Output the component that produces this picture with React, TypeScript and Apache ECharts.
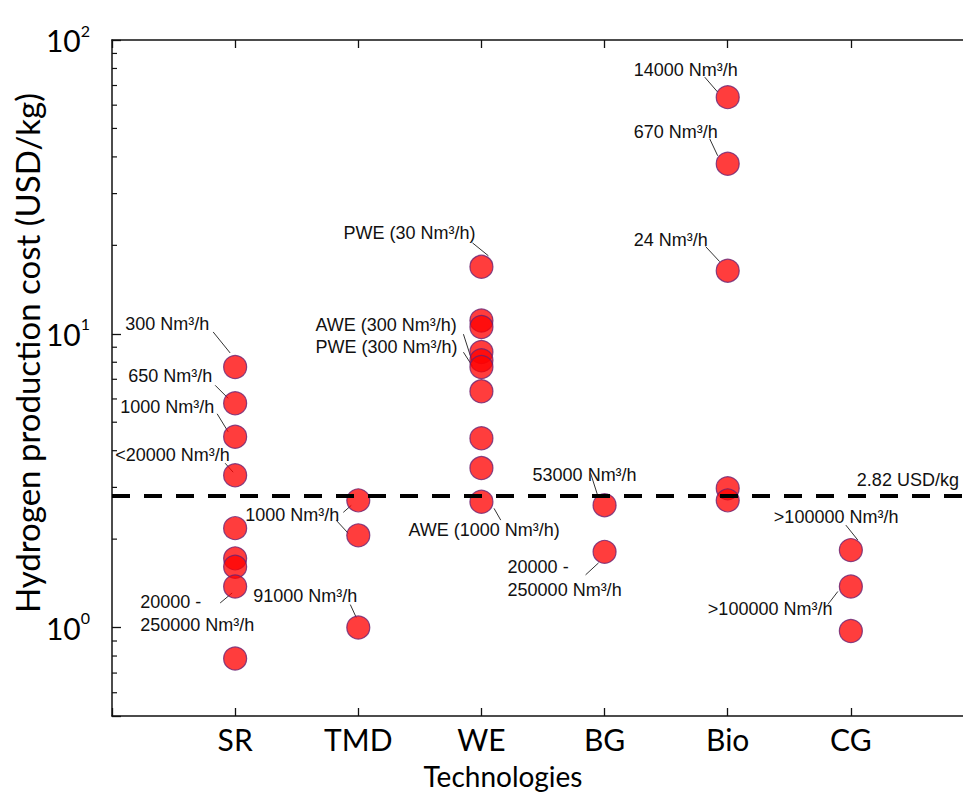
import React, { useEffect, useRef } from "react";
import * as echarts from "echarts";

// ---------- data ----------
const categories = ["SR", "TMD", "WE", "BG", "Bio", "CG"];
const srCost = [7.71, 5.8, 4.46, 3.3, 2.18, 1.72, 1.61, 1.38, 0.785];
const tmdCost = [2.71, 2.06, 1.0];
const weCost = [16.9, 11.1, 10.55, 8.67, 8.13, 7.71, 6.37, 4.41, 3.49, 2.68];
const bgCost = [2.61, 1.81];
const bioCost = [63.9, 37.9, 16.4, 2.98, 2.71];
const cgCost = [1.835, 1.38, 0.973];
const costsByCategory = [srCost, tmdCost, weCost, bgCost, bioCost, cgCost];
const referenceCost = 2.82;
const referenceLabel = "2.82 USD/kg";
const xTitle = "Technologies";
const yTitle = "Hydrogen production cost (USD/kg)";
const yMin = 0.5;
const yMax = 100;
const minorTickValues = [0.6, 0.7, 0.8, 0.9, 2, 3, 4, 5, 6, 7, 8, 9, 20, 30, 40, 50, 60, 70, 80, 90];

// annotation texts: [category, value, text]
const annotationCategory = ["SR", "SR", "SR", "SR", "SR", "TMD", "TMD", "WE", "WE", "WE", "WE", "BG", "BG", "Bio", "Bio", "Bio", "CG", "CG"];
const annotationValue = [7.71, 5.8, 4.46, 3.3, 1.38, 2.06, 1.0, 16.9, 8.13, 8.13, 2.68, 2.61, 1.81, 63.9, 37.9, 16.4, 1.835, 1.38];
const annotationText = [
  "300 Nm³/h",
  "650 Nm³/h",
  "1000 Nm³/h",
  "<20000 Nm³/h",
  "20000 -\n250000 Nm³/h",
  "1000 Nm³/h",
  "91000 Nm³/h",
  "PWE (30 Nm³/h)",
  "AWE (300 Nm³/h)",
  "PWE (300 Nm³/h)",
  "AWE (1000 Nm³/h)",
  "53000 Nm³/h",
  "20000 -\n250000 Nm³/h",
  "14000 Nm³/h",
  "670 Nm³/h",
  "24 Nm³/h",
  ">100000 Nm³/h",
  ">100000 Nm³/h",
];

// ---------- layout of annotations (pixel offsets from the marker) ----------
// [textDx, textDy, leaderStartDx, leaderStartDy, leaderEndDx, leaderEndDy]
const annotationLayout = [
  [-110, -43, -22, -35, -5, -14],
  [-107, -27, -20, -18, -7, -5],
  [-115, -30, -18, -23, -7, -5],
  [-120, -20, -10, -12, -2, -3],
  [-95, 27, -15, 16.5, -3, 6.5],
  [-113, -20, -22, -15, -10, -2],
  [-105, -32, -8, -23, -2, -10],
  [-138, -34, -9, -24, 7, -11],
  [-166, -35, -18, -26, -9, 2],
  [-166, -13, -18, -8, -9, 6],
  [-73, 28, 12.6, 6.6, 19.3, 18.3],
  [-72, -30, -14, -32, -7, -10],
  [-97, 27, -19, 23, -6, 11],
  [-94, -27, -23, -20, -10, -5],
  [-94, -32, -18, -25, -10, -8],
  [-94, -31, -22, -24, -8, -9],
  [-77, -33, -5, -25, 7, -10],
  [-143, 23, -23, 18, -13, 5],
];
// extra leader without text: TMD upper point
const extraLeaderCategory = ["TMD"];
const extraLeaderValue = [2.71];
const extraLeaderLayout = [[-15, 12, -7, 5]];

const FONT_AXIS = "Lato, 'DejaVu Sans', sans-serif";
const FONT_NOTE = "'Liberation Sans', Arial, sans-serif";

export default function App() {
  const ref = useRef<HTMLDivElement>(null);

  useEffect(() => {
    if (!ref.current) return;
    const chart = echarts.init(ref.current, null, { renderer: "svg" });

    const scatterData: number[][] = [];
    costsByCategory.forEach((arr, i) => arr.forEach((v) => scatterData.push([i + 1, v])));

    const axisLineStyle = { color: "#111", width: 1.5 };

    const option: any = {
      animation: false,
      backgroundColor: "#fff",
      grid: { left: 112, top: 40, width: 862, height: 676, containLabel: false, outerBoundsMode: "none" },
      xAxis: [
        {
          type: "value",
          min: 0,
          max: 7,
          interval: 1,
          position: "bottom",
          axisLine: { show: true, onZero: false, lineStyle: axisLineStyle },
          axisTick: { show: true, inside: true, length: 8, lineStyle: { color: "#111", width: 1.3 } },
          axisLabel: {
            margin: 9,
            color: "#000",
            fontSize: 30,
            lineHeight: 28,
            fontFamily: FONT_AXIS,
            formatter: (v: number) => (v >= 1 && v <= categories.length ? categories[v - 1] : ""),
          },
          splitLine: { show: false },
        },
        {
          type: "value",
          min: 0,
          max: 7,
          interval: 1,
          position: "top",
          axisLine: { show: true, onZero: false, lineStyle: axisLineStyle },
          axisTick: { show: true, inside: true, length: 8, lineStyle: { color: "#111", width: 1.3 } },
          axisLabel: { show: false },
          splitLine: { show: false },
        },
      ],
      yAxis: [
        {
          type: "log",
          logBase: 10,
          min: yMin,
          max: yMax,
          position: "left",
          axisLine: { show: true, onZero: false, lineStyle: axisLineStyle },
          axisTick: { show: true, inside: true, length: 9, lineStyle: { color: "#111", width: 1.3 } },
          axisLabel: {
            margin: 22,
            formatter: (v: number) => {
              const e = Math.round(Math.log10(v));
              if (Math.abs(v / Math.pow(10, e) - 1) > 1e-6) return "";
              return "{b|10}{s|" + e + "}";
            },
            rich: {
              b: { fontSize: 30, fontFamily: FONT_AXIS, color: "#000", lineHeight: 36 },
              s: { fontSize: 16, fontFamily: FONT_AXIS, color: "#000", verticalAlign: "top", lineHeight: 16 },
            },
          },
          splitLine: { show: false },
        },
        {
          type: "log",
          logBase: 10,
          min: yMin,
          max: yMax,
          position: "right",
          axisLine: { show: true, onZero: false, lineStyle: axisLineStyle },
          axisTick: { show: true, inside: true, length: 9 },
          axisLabel: { show: false },
          splitLine: { show: false },
        },
      ],
      series: [
        {
          type: "custom",
          xAxisIndex: 0,
          yAxisIndex: 0,
          silent: true,
          clip: false,
          data: minorTickValues.map((v) => [0, v]),
          renderItem: (_p: any, api: any) => {
            const a = api.coord([0, api.value(1)]);
            const b = api.coord([7, api.value(1)]);
            return {
              type: "group",
              children: [
                { type: "line", shape: { x1: a[0], y1: a[1], x2: a[0] + 5, y2: a[1] }, style: { stroke: "#111", lineWidth: 1.2 } },
                { type: "line", shape: { x1: b[0] - 5, y1: b[1], x2: b[0], y2: b[1] }, style: { stroke: "#111", lineWidth: 1.2 } },
              ],
            };
          },
        },
        {
          type: "scatter",
          xAxisIndex: 0,
          yAxisIndex: 0,
          symbol: "circle",
          symbolSize: 23,
          z: 2,
          itemStyle: { color: "rgba(255,0,0,0.95)", borderColor: "#6a2070", borderWidth: 1.2 },
          data: scatterData,
          markLine: {
            silent: true,
            symbol: "none",
            z: 5,
            label: { show: false },
            lineStyle: { color: "#000", width: 4, type: [18, 14] },
            data: [{ yAxis: referenceCost }],
          },
        },
      ],
    };
    chart.setOption(option);

    const px = (cat: string, v: number) =>
      chart.convertToPixel({ xAxisIndex: 0, yAxisIndex: 0 }, [categories.indexOf(cat) + 1, v]) as number[];

    const elements: any[] = [];
    annotationText.forEach((t, i) => {
      const p = px(annotationCategory[i], annotationValue[i]);
      const [tdx, tdy, sx, sy, ex, ey] = annotationLayout[i];
      elements.push({
        type: "text",
        z: 10,
        x: p[0] + tdx,
        y: p[1] + tdy,
        style: {
          text: t,
          fill: "#111",
          font: "18px " + FONT_NOTE,
          align: "left",
          verticalAlign: "middle",
          lineHeight: 23,
        },
      });
      elements.push({
        type: "line",
        z: 1,
        shape: { x1: p[0] + sx, y1: p[1] + sy, x2: p[0] + ex, y2: p[1] + ey },
        style: { stroke: "#333", lineWidth: 1 },
      });
    });
    extraLeaderLayout.forEach((l, i) => {
      const p = px(extraLeaderCategory[i], extraLeaderValue[i]);
      elements.push({
        type: "line",
        z: 1,
        shape: { x1: p[0] + l[0], y1: p[1] + l[1], x2: p[0] + l[2], y2: p[1] + l[3] },
        style: { stroke: "#333", lineWidth: 1 },
      });
    });
    const r = px("CG", referenceCost);
    elements.push({
      type: "text",
      z: 10,
      x: r[0] + 6,
      y: r[1] - 15,
      style: { text: referenceLabel, fill: "#111", font: "18px " + FONT_NOTE, align: "left", verticalAlign: "middle" },
    });
    // x-axis title
    elements.push({
      type: "text",
      z: 10,
      x: 503,
      y: 776,
      style: {
        text: xTitle,
        fill: "#000",
        font: "28px " + FONT_AXIS,
        lineHeight: 24,
        align: "center",
        verticalAlign: "middle",
      },
    });
    // y-axis title
    elements.push({
      type: "text",
      z: 10,
      x: 27,
      y: 353,
      rotation: Math.PI / 2,
      style: { text: yTitle, fill: "#000", font: "33px " + FONT_AXIS, align: "center", verticalAlign: "middle" },
    });

    chart.setOption({ graphic: { elements } });

    return () => chart.dispose();
  }, []);

  return (
    <div
      ref={ref}
      style={{ position: "absolute", left: 0, top: 0, width: 963, height: 792, background: "#fff" }}
    />
  );
}
